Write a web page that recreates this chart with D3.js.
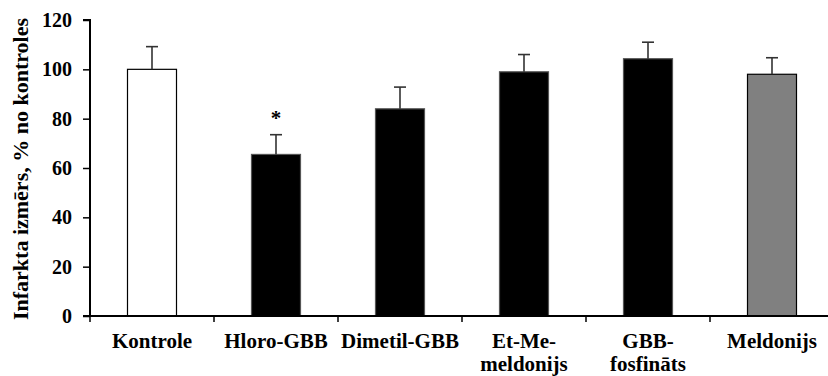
<!DOCTYPE html>
<html><head><meta charset="utf-8">
<script src="https://cdn.jsdelivr.net/npm/d3@7"></script>
<style>body{margin:0;background:#fff}svg{display:block}
svg text{font-family:"Liberation Serif","Times New Roman",serif;font-weight:bold;fill:#000}</style>
</head><body><svg id="c" width="828" height="376"></svg>
<script>
const categories = [["Kontrole"],["Hloro-GBB"],["Dimetil-GBB"],["Et-Me-","meldonijs"],["GBB-","fosfināts"],["Meldonijs"]];
const values = [100, 65.5, 84, 99, 104.3, 98];
const errors = [9.2, 8, 8.8, 7, 6.7, 6.7];
const fills = ["#ffffff","#000000","#000000","#000000","#000000","#808080"];
const strokes = ["#000000","#555555","#555555","#555555","#555555","#000000"];
const marks = ["","*","","","",""];
const yTicks = [0,20,40,60,80,100,120];
const yTitle = "Infarkta izmērs, % no kontroles";

const FONT = '"Liberation Serif", "Times New Roman", serif';
const svg = d3.select("#c");
const x = d3.scaleBand().domain(d3.range(categories.length)).range([90, 834]);
const y = d3.scaleLinear().domain([0,120]).range([316, 20]);
const bw = 49;

const g = svg.append("g");
g.selectAll("rect.bar").data(values).join("rect")
  .attr("x",(d,i)=>x(i)+x.bandwidth()/2-bw/2).attr("width",bw)
  .attr("y",d=>y(d)).attr("height",d=>y(0)-y(d))
  .attr("fill",(d,i)=>fills[i]).attr("stroke",(d,i)=>strokes[i]).attr("stroke-width",1.2);
const eb = g.selectAll("g.err").data(values).join("g");
eb.append("line").attr("x1",(d,i)=>x(i)+x.bandwidth()/2).attr("x2",(d,i)=>x(i)+x.bandwidth()/2)
  .attr("y1",d=>y(d)).attr("y2",(d,i)=>y(d+errors[i])).attr("stroke","#333").attr("stroke-width",1.6);
eb.append("line").attr("x1",(d,i)=>x(i)+x.bandwidth()/2-6).attr("x2",(d,i)=>x(i)+x.bandwidth()/2+6)
  .attr("y1",(d,i)=>y(d+errors[i])).attr("y2",(d,i)=>y(d+errors[i])).attr("stroke","#333").attr("stroke-width",1.6);
g.selectAll("text.mk").data(values).join("text")
  .attr("x",(d,i)=>x(i)+x.bandwidth()/2).attr("y",(d,i)=>y(d+errors[i])-10)
  .attr("text-anchor","middle").attr("font-family",FONT).style("font-size","21px").text((d,i)=>marks[i]);

const ya = svg.append("g").attr("transform","translate(90,0)")
  .call(d3.axisLeft(y).tickValues(yTicks).tickSize(7).tickPadding(11));
ya.attr("font-family",FONT);
ya.select(".domain").attr("stroke","#000").attr("stroke-width",2).attr("d","M-7,20H0V316H-7");
ya.selectAll(".tick line").attr("stroke","#000").attr("stroke-width",1.5);
ya.selectAll(".tick text").attr("font-family",FONT).style("font-size","20px").attr("fill","#000");

const xa = svg.append("g").attr("transform","translate(0,316)").attr("font-family",FONT);
xa.append("line").attr("x1",89).attr("x2",834).attr("y1",0).attr("y2",0).attr("stroke","#000").attr("stroke-width",2);
xa.selectAll("line.t").data(d3.range(categories.length+1)).join("line")
  .attr("x1",i=>90+i*x.bandwidth()).attr("x2",i=>90+i*x.bandwidth()).attr("y1",0).attr("y2",6)
  .attr("stroke","#000").attr("stroke-width",1.5);
xa.selectAll("text.cl").data(categories).join("text")
  .attr("text-anchor","middle").attr("transform",(d,i)=>`translate(${x(i)+x.bandwidth()/2},32)`)
  .attr("font-family",FONT).style("font-size","21px")
  .each(function(d){ d3.select(this).selectAll("tspan").data(d).join("tspan").attr("x",0).attr("dy",(t,j)=>j?22.5:0).text(t=>t); });

svg.append("text").attr("transform","translate(27.5,169) rotate(-90)").attr("text-anchor","middle")
  .attr("font-family",FONT).style("font-size","22px").text(yTitle);
</script></body></html>
